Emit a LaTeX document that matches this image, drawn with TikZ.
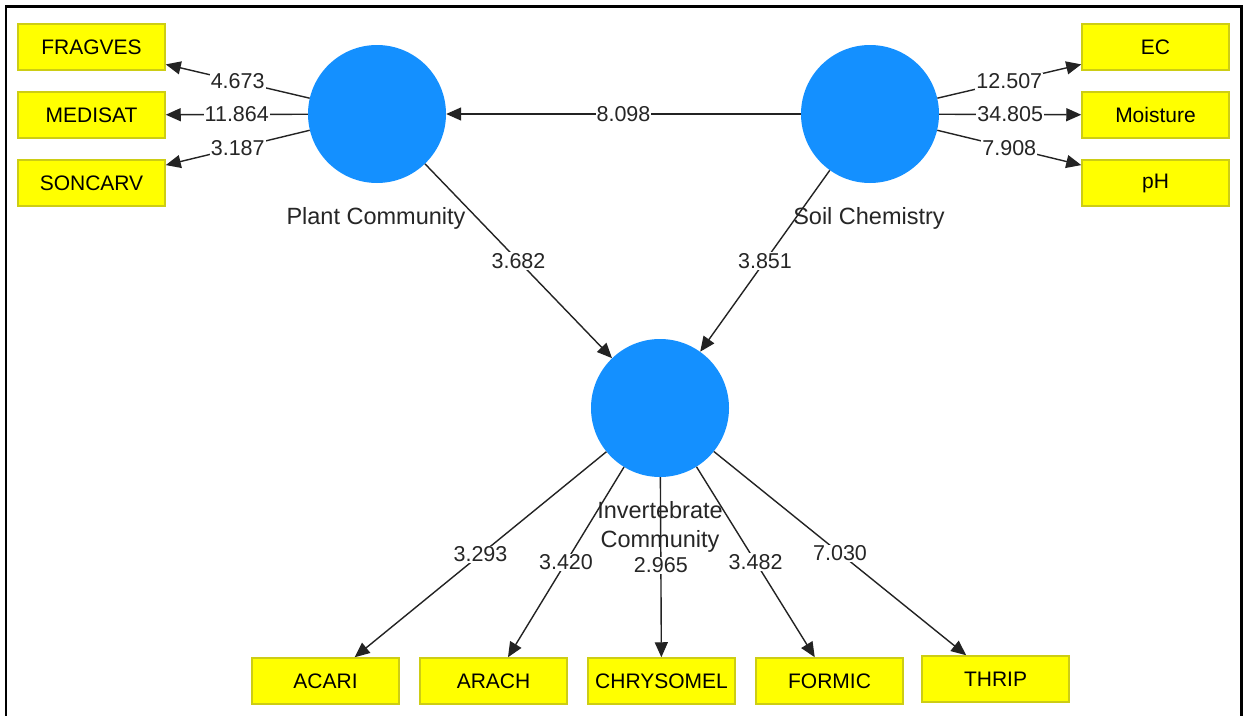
\documentclass[tikz,border=0pt]{standalone}
\usepackage{fontspec}
\setmainfont{Liberation Sans}
\usetikzlibrary{arrows.meta}
\definecolor{boxyellow}{RGB}{255,255,0}
\definecolor{boxedge}{RGB}{205,205,20}
\definecolor{lvblue}{RGB}{20,144,255}
\definecolor{edgegray}{RGB}{35,35,35}
\tikzset{
  ind/.style={draw=boxedge, line width=1.5pt, fill=boxyellow, minimum width=147pt, minimum height=46pt, inner sep=0pt, font=\fontsize{21}{23}\selectfont},
  lv/.style={circle, fill=lvblue, minimum size=138pt, inner sep=0pt},
  lvname/.style={font=\fontsize{23.5}{29}\selectfont, align=center, text=black!85},
  conn/.style={draw=edgegray, line width=1.4pt, -{Triangle[length=15pt,width=13pt]}},
  coef/.style={fill=white, inner sep=1pt, font=\fontsize{21.5}{23}\selectfont, text=black!85}
}
\begin{document}
\begin{tikzpicture}[x=1pt,y=-1pt]
\useasboundingbox (0,0) rectangle (1247,715);
\fill[white] (0,0) rectangle (1247,715);
\draw[line width=2.5pt] (6,716) -- (6,6.5) -- (1241.5,6.5) -- (1241.5,716);
% latent variables
\node[lv] (plant) at (377,114) {};
\node[lv] (soil) at (870,114) {};
\node[lv] (inv) at (660,408) {};
% indicators
\node[ind] (fragves) at (91.5,47) {FRAGVES};
\node[ind] (medisat) at (91.5,115) {MEDISAT};
\node[ind] (soncarv) at (91.5,183) {SONCARV};
\node[ind] (ec) at (1155.5,47) {EC};
\node[ind] (moist) at (1155.5,115) {Moisture};
\node[ind] (ph) at (1155.5,183) {pH};
\node[ind] (acari) at (325.5,681) {ACARI};
\node[ind] (arach) at (493.5,681) {ARACH};
\node[ind] (chrys) at (661.5,681) {CHRYSOMEL};
\node[ind] (formic) at (829.5,681) {FORMIC};
\node[ind] (thrip) at (995.5,679) {THRIP};
% connectors
\draw[conn] (soil) -- node[coef]{8.098} (plant);
\draw[conn] (plant) -- node[coef]{4.673} (fragves);
\draw[conn] (plant) -- node[coef]{11.864} (medisat);
\draw[conn] (plant) -- node[coef]{3.187} (soncarv);
\draw[conn] (soil) -- node[coef]{12.507} (ec);
\draw[conn] (soil) -- node[coef]{34.805} (moist);
\draw[conn] (soil) -- node[coef]{7.908} (ph);
\draw[conn] (plant) -- node[coef]{3.682} (inv);
\draw[conn] (soil) -- node[coef]{3.851} (inv);
\draw[conn] (inv) -- node[coef]{3.293} (acari);
\draw[conn] (inv) -- node[coef]{3.420} (arach);
\draw[conn] (inv) -- node[coef, pos=0.49]{2.965} (chrys);
\draw[conn] (inv) -- node[coef]{3.482} (formic);
\draw[conn] (inv) -- node[coef]{7.030} (thrip);
% latent names
\node[lvname] (plantname) at (376,218) {Plant Community};
\node[lvname] (soilname) at (869,218) {Soil Chemistry};
\node[lvname] (invname) at (660,527) {Invertebrate\\Community};
\end{tikzpicture}
\end{document}
